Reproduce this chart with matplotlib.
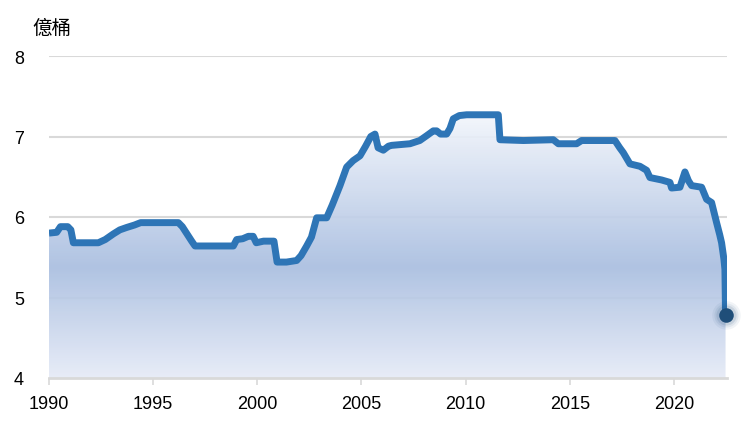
import numpy as np
import matplotlib
matplotlib.use("Agg")
import matplotlib.pyplot as plt
from matplotlib.colors import LinearSegmentedColormap

# 美國戰略石油儲備（億桶）
years = [1990.00, 1990.37, 1990.55, 1990.90, 1991.05, 1991.17, 1992.37, 1992.70,
         1993.09, 1993.40, 1993.73, 1994.10, 1994.40, 1996.21, 1996.40, 1996.60,
         1996.85, 1997.01, 1998.85, 1999.01, 1999.30, 1999.57, 1999.80, 1999.95,
         2000.30, 2000.80, 2000.95, 2001.40, 2001.89, 2002.10, 2002.37, 2002.60,
         2002.85, 2003.33, 2003.60, 2003.97, 2004.29, 2004.60, 2004.93, 2005.20,
         2005.45, 2005.65, 2005.80, 2006.05, 2006.30, 2006.45, 2007.33, 2007.80,
         2008.13, 2008.45, 2008.61, 2008.80, 2009.09, 2009.25, 2009.41, 2009.70,
         2010.05, 2011.57, 2011.65, 2012.77, 2014.21, 2014.45, 2015.33, 2015.57,
         2017.17, 2017.40, 2017.57, 2017.89, 2018.37, 2018.69, 2018.85, 2019.41,
         2019.81, 2019.89, 2020.29, 2020.53, 2020.70, 2020.85, 2021.33, 2021.57,
         2021.81, 2022.05, 2022.20, 2022.29, 2022.40, 2022.45, 2022.48]
values = [5.80, 5.81, 5.88, 5.88, 5.84, 5.68, 5.68, 5.72,
          5.79, 5.84, 5.87, 5.90, 5.93, 5.93, 5.88, 5.80,
          5.70, 5.64, 5.64, 5.72, 5.73, 5.76, 5.76, 5.68,
          5.70, 5.70, 5.44, 5.44, 5.46, 5.52, 5.64, 5.75,
          5.99, 5.99, 6.15, 6.39, 6.62, 6.70, 6.76, 6.88,
          7.00, 7.03, 6.86, 6.83, 6.88, 6.89, 6.91, 6.95,
          7.01, 7.07, 7.07, 7.03, 7.03, 7.10, 7.22, 7.26,
          7.27, 7.27, 6.96, 6.95, 6.96, 6.91, 6.91, 6.95,
          6.95, 6.86, 6.80, 6.66, 6.63, 6.58, 6.49, 6.46,
          6.43, 6.36, 6.37, 6.56, 6.45, 6.39, 6.37, 6.22,
          6.18, 5.93, 5.78, 5.68, 5.48, 5.35, 4.78]

xticks = [1990, 1995, 2000, 2005, 2010, 2015, 2020]
yticks = [4, 5, 6, 7, 8]
unit = "億桶"

x0, x1 = 1990, 2022.55
y0, y1 = 4, 8
line_col = "#2e75b6"
grid_col = "#d9d9d9"

fig = plt.figure(figsize=(7.5, 4.27), dpi=100)
ax = fig.add_axes([49/750, 48/427, 678/750, 322/427])
ax.set_xlim(x0, x1)
ax.set_ylim(y0, y1)

for t in yticks[1:]:
    ax.axhline(t, color=grid_col, lw=1.5, zorder=1)

# gradient fill below the line
cmap = LinearSegmentedColormap.from_list(
    "g", [(0.0, "#e6ebf7"), (0.42, "#a9bee0"), (1.0, "#f3f6fc")])
top = max(values)
grad = np.linspace(0, 1, 256).reshape(-1, 1)
img = ax.imshow(grad, cmap=cmap, origin="lower", aspect="auto",
                extent=[x0, x1, y0, top], zorder=2, alpha=0.92)
poly = ax.fill_between(years, values, y0, color="none", lw=0)
img.set_clip_path(poly.get_paths()[0], transform=ax.transData)

ax.plot(years, values, color=line_col, lw=5, solid_joinstyle="round",
        solid_capstyle="butt", zorder=3)

# end point with glow
for s, a in [(420, 0.06), (300, 0.08), (210, 0.12)]:
    ax.scatter(years[-1], values[-1], s=s, color="#1f4e79", alpha=a, lw=0,
               zorder=4, clip_on=False)
ax.scatter(years[-1], values[-1], s=110, color="#1f4e79", lw=0, zorder=5,
           clip_on=False)

for sp in ["top", "right", "left"]:
    ax.spines[sp].set_visible(False)
ax.spines["bottom"].set_color(grid_col)
ax.spines["bottom"].set_linewidth(2)
ax.spines["bottom"].set_zorder(2.5)

ax.set_xticks(xticks)
ax.set_yticks(yticks)
ax.tick_params(axis="x", length=5, width=1.2, color=grid_col, pad=7,
               labelsize=13, labelcolor="black")
ax.tick_params(axis="y", length=0, pad=18, labelsize=13, labelcolor="black")
for lab in ax.get_xticklabels() + ax.get_yticklabels():
    lab.set_family(["Liberation Sans", "DejaVu Sans"])

fig.text(32/750, 1 - 28/427, unit, fontsize=14, va="center", ha="left",
         family=["Noto Sans CJK TC", "DejaVu Sans"])

fig.savefig("out.png", dpi=100)
